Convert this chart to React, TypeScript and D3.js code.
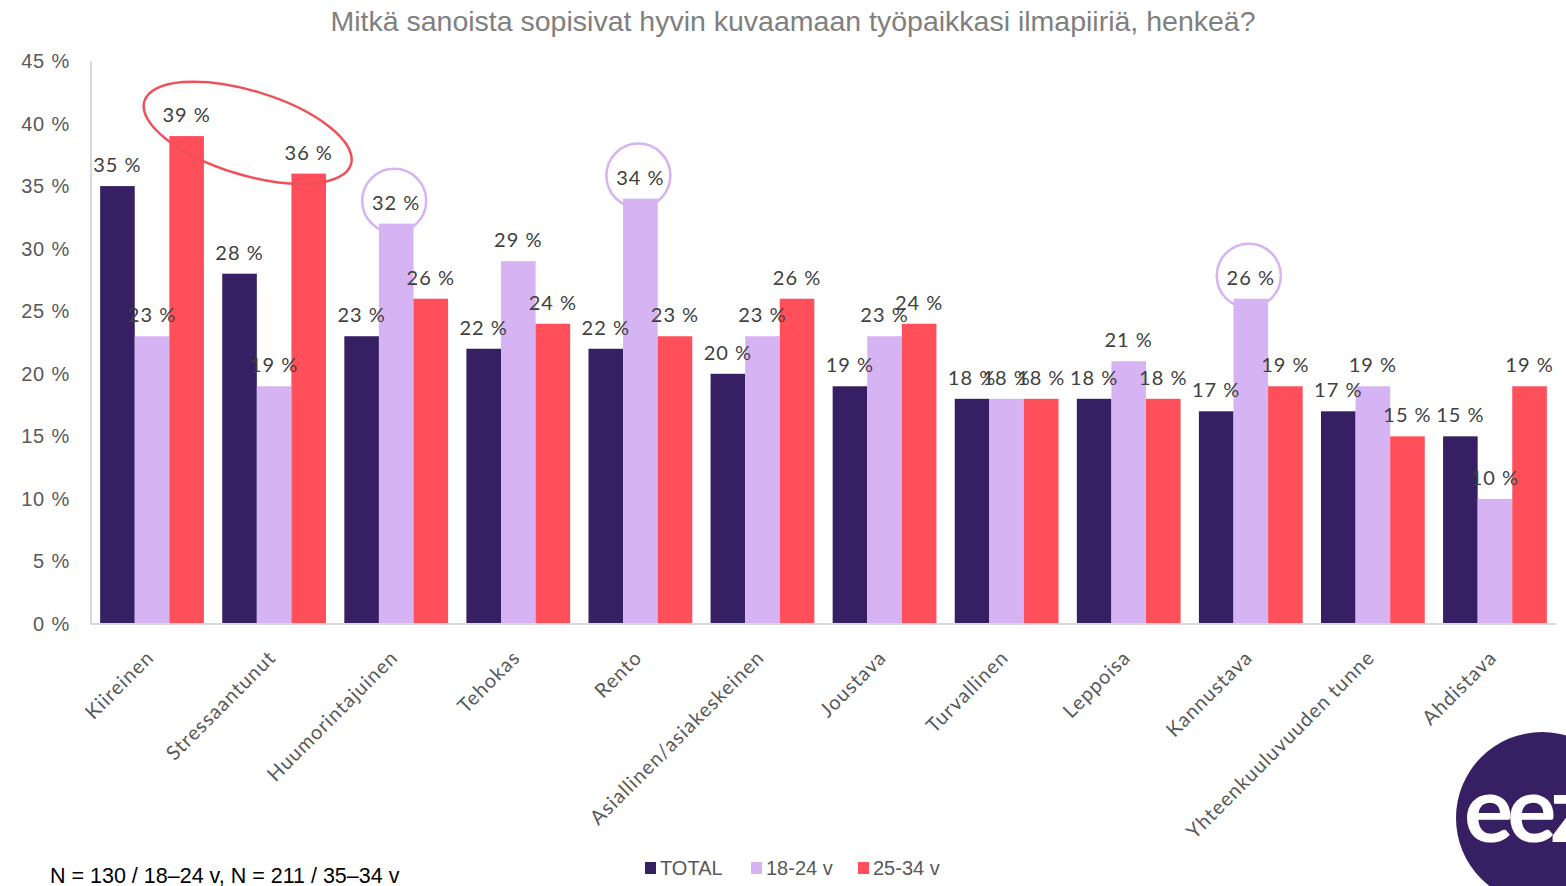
// App.tsx
import React from 'react'
import * as d3 from 'd3'

const width = 1566
const height = 886

// data
const categories = [
  'Kiireinen', 'Stressaantunut', 'Huumorintajuinen', 'Tehokas', 'Rento',
  'Asiallinen/asiakeskeinen', 'Joustava', 'Turvallinen', 'Leppoisa',
  'Kannustava', 'Yhteenkuuluvuuden tunne', 'Ahdistava'
]
const seriesNames = ['TOTAL', '18-24 v', '25-34 v']
const total = [35, 28, 23, 22, 22, 20, 19, 18, 18, 17, 17, 15]
const age1824 = [23, 19, 32, 29, 34, 23, 23, 18, 21, 26, 19, 10]
const age2534 = [39, 36, 26, 24, 23, 26, 24, 18, 18, 19, 15, 19]
const yTicks = [0, 5, 10, 15, 20, 25, 30, 35, 40, 45]
const colors = ['#361f62', '#d6b3f3', '#fe4f5a']

// highlighted: [category, series]
const circled = [['Huumorintajuinen', 1], ['Rento', 1], ['Kannustava', 1]]

const labelFont = 'Lato, "Open Sans", sans-serif'
const axisFont = '"Liberation Sans", Arial, sans-serif'
const narrowFont = '"Liberation Sans Narrow", "Liberation Sans", Arial, sans-serif'

export default function App() {
  const margin = { top: 61, right: 10, bottom: 262, left: 91 }
  const values = [total, age1824, age2534]

  const x0 = d3.scaleBand()
    .domain(categories)
    .range([margin.left, width - margin.right])
    .paddingInner(0.15)
    .paddingOuter(0.075)

  const x1 = d3.scaleBand()
    .domain(seriesNames)
    .range([0, x0.bandwidth()])

  const y = d3.scaleLinear()
    .domain([0, 45])
    .range([height - margin.bottom, margin.top])

  const barX = (cat, si) => x0(cat) + x1(seriesNames[si])
  const barCx = (cat, si) => barX(cat, si) + x1.bandwidth() / 2

  // red ellipse round the two top 25-34 values
  const ex = (barCx('Kiireinen', 2) + barCx('Stressaantunut', 2)) / 2
  const ey = (y(39) + y(36)) / 2 - 22

  return (
    <svg width={width} height={height}
      style={{ position: 'absolute', left: 0, top: 0, background: '#fff' }}>
      {/* title */}
      <text x={793} y={31} textAnchor="middle" fontFamily={axisFont}
        fontSize={28.5} fill="#7f7f7f">
        Mitkä sanoista sopisivat hyvin kuvaamaan työpaikkasi ilmapiiriä, henkeä?
      </text>

      {/* y ticks */}
      {yTicks.map(t => (
        <text key={t} x={70} y={y(t)} dy="0.35em" textAnchor="end"
          fontFamily={axisFont} fontSize={20} letterSpacing={0.8} fill="#595959">
          {t} %
        </text>
      ))}

      {/* bars */}
      {categories.map((cat, ci) => (
        <g key={cat}>
          {values.map((vals, si) => (
            <rect key={si}
              x={barX(cat, si)}
              y={y(vals[ci])}
              width={x1.bandwidth()}
              height={y(0) - y(vals[ci])}
              fill={colors[si]} />
          ))}
        </g>
      ))}

      {/* axes lines */}
      <line x1={margin.left} x2={margin.left} y1={y(45)} y2={y(0)}
        stroke="#d9d9d9" strokeWidth={2} />
      <line x1={margin.left} x2={width - margin.right} y1={y(0)} y2={y(0)}
        stroke="#d9d9d9" strokeWidth={2} />

      {/* value labels */}
      {categories.map((cat, ci) => (
        <g key={cat}>
          {values.map((vals, si) => (
            <text key={si}
              x={barCx(cat, si)}
              y={y(vals[ci]) - 14}
              textAnchor="middle"
              fontFamily={labelFont} fontSize={20} letterSpacing={1} fill="#404040">
              {vals[ci]} %
            </text>
          ))}
        </g>
      ))}

      {/* category labels */}
      {categories.map(cat => (
        <text key={cat}
          transform={`translate(${x0(cat) + x0.bandwidth() / 2 - 2},${y(0) + 30}) rotate(-45)`}
          textAnchor="end" dy="0.35em"
          fontFamily={labelFont} fontSize={20} letterSpacing={1} fill="#595959">
          {cat}
        </text>
      ))}

      {/* annotations */}
      <ellipse cx={ex} cy={ey} rx={108} ry={42}
        transform={`rotate(17,${ex},${ey})`}
        fill="none" stroke="#f0505a" strokeWidth={2.5} />
      {circled.map(([cat, si]) => {
        const ci = categories.indexOf(cat)
        return (
          <circle key={cat}
            cx={barCx(cat, si) - 2}
            cy={y(values[si][ci]) - 23}
            r={32}
            fill="none" stroke="#d6b3f3" strokeWidth={2.5} />
        )
      })}

      {/* legend */}
      {seriesNames.map((s, i) => {
        const lx = [645, 751, 858][i]
        return (
          <g key={s} transform={`translate(${lx},868)`}>
            <rect x={0} y={-6} width={11} height={12} fill={colors[i]} />
            <text x={15} dy="0.35em" fontFamily={narrowFont} fontSize={20} fill="#595959">
              {s}
            </text>
          </g>
        )
      })}

      {/* footnote */}
      <text x={50} y={883} fontFamily={narrowFont} fontSize={21.5} fill="#000">
        N = 130 / 18–24 v, N = 211 / 35–34 v
      </text>

      {/* logo */}
      <circle cx={1542} cy={818} r={86} fill="#371f63" />
      <text x={1464} y={842} fontFamily={labelFont} fontWeight={700}
        fontSize={92} fill="#fff" letterSpacing={-6}>
        eez
      </text>
    </svg>
  )
}
